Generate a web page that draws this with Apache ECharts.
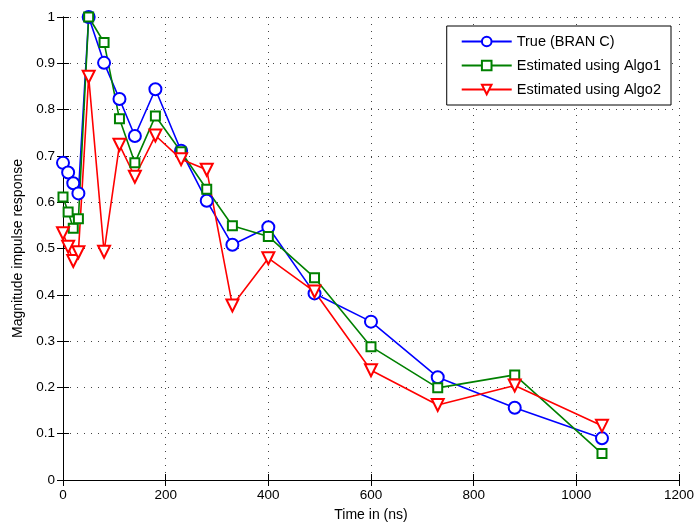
<!DOCTYPE html>
<html>
<head>
<meta charset="UTF-8">
<script src="https://cdn.jsdelivr.net/npm/echarts@6/dist/echarts.min.js"></script>
<style>
  html, body { margin: 0; padding: 0; background: #fff; }
  #main { width: 697px; height: 528px; }
</style>
</head>
<body>
<div id="main"></div>
<script>
// delays (ns) and magnitudes
var timeNs = [0, 10, 20, 30, 50, 80, 110, 140, 180, 230, 280, 330, 400, 490, 600, 730, 880, 1050];
var trueBranC = [0.685, 0.664, 0.641, 0.619, 1.0, 0.901, 0.823, 0.743, 0.844, 0.711, 0.603, 0.508, 0.546, 0.403, 0.342, 0.222, 0.156, 0.090];
var algo1 = [0.611, 0.579, 0.544, 0.564, 1.0, 0.945, 0.780, 0.685, 0.786, 0.709, 0.628, 0.549, 0.526, 0.437, 0.288, 0.199, 0.227, 0.057];
var algo2 = [0.533, 0.504, 0.473, 0.492, 0.871, 0.493, 0.724, 0.655, 0.744, 0.693, 0.670, 0.377, 0.479, 0.407, 0.237, 0.162, 0.204, 0.117];
var names = ['True (BRAN C)', 'Estimated using Algo1', 'Estimated using Algo2'];

var chartDom = document.getElementById('main');
var myChart = echarts.init(chartDom);

function pairs(ys) {
  return timeNs.map(function (t, i) { return [t, ys[i]]; });
}

function mkSeries(name, ys, color, symbol, size, rotate) {
  return {
    name: name,
    type: 'line',
    data: pairs(ys),
    symbol: symbol,
    symbolSize: size,
    symbolRotate: rotate || 0,
    clip: false,
    lineStyle: { color: color, width: 1.6 },
    itemStyle: { color: color, borderColor: color, borderWidth: 1.5 },
    emphasis: { disabled: true }
  };
}

var fontFam = 'Liberation Sans, Arial, sans-serif';
var gridLine = { show: true, lineStyle: { color: '#444', type: [1, 6], width: 1 } };

var option = {
  animation: false,
  textStyle: { fontFamily: fontFam },
  grid: { left: 63, right: 17, top: 17, bottom: 48 },
  legend: {
    right: 26,
    top: 26,
    orient: 'vertical',
    backgroundColor: '#fff',
    borderColor: '#000',
    borderWidth: 1,
    padding: [8, 10, 8, 14],
    itemGap: 9,
    itemWidth: 50,
    itemHeight: 12,
    textStyle: { fontSize: 14.5, color: '#000', fontFamily: fontFam },
    data: names
  },
  xAxis: [{
    type: 'value',
    min: 0, max: 1200, interval: 200,
    name: 'Time in (ns)',
    nameLocation: 'middle',
    nameGap: 28,
    nameTextStyle: { fontSize: 14, color: '#000' },
    axisLine: { show: true, onZero: false, lineStyle: { color: '#000', width: 1 } },
    axisTick: { show: true, inside: true, length: 6, lineStyle: { color: '#000' } },
    axisLabel: { fontSize: 13.5, color: '#000', margin: 8, formatter: function (v) { return String(v); } },
    splitLine: gridLine
  }, {
    type: 'value', position: 'top',
    min: 0, max: 1200, interval: 200,
    axisLine: { show: true, lineStyle: { color: '#000', width: 1 } },
    axisTick: { show: true, inside: true, length: 6, lineStyle: { color: '#000' } },
    axisLabel: { show: false },
    splitLine: { show: false }
  }],
  yAxis: [{
    type: 'value',
    min: 0, max: 1, interval: 0.1,
    name: 'Magnitude impulse response',
    nameLocation: 'middle',
    nameGap: 36,
    nameTextStyle: { fontSize: 14, color: '#000' },
    axisLine: { show: true, onZero: false, lineStyle: { color: '#000', width: 1 } },
    axisTick: { show: true, inside: true, length: 6, lineStyle: { color: '#000' } },
    axisLabel: { fontSize: 13.5, color: '#000', margin: 8 },
    splitLine: gridLine
  }, {
    type: 'value', position: 'right',
    min: 0, max: 1, interval: 0.1,
    axisLine: { show: true, lineStyle: { color: '#000', width: 1 } },
    axisTick: { show: true, inside: true, length: 6, lineStyle: { color: '#000' } },
    axisLabel: { show: false },
    splitLine: { show: false }
  }],
  series: [
    mkSeries(names[0], trueBranC, '#0000ff', 'emptyCircle', 12),
    mkSeries(names[1], algo1, '#008000', 'emptyRect', 9),
    mkSeries(names[2], algo2, '#ff0000', 'emptyTriangle', 12, 180)
  ]
};

myChart.setOption(option);
</script>
</body>
</html>
